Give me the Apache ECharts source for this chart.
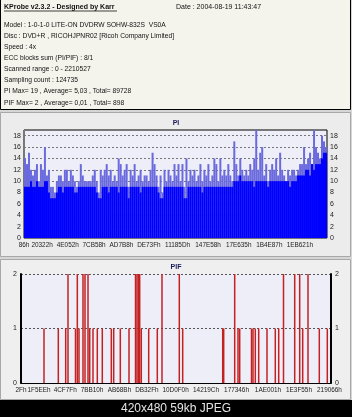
<!DOCTYPE html>
<html>
<head>
<meta charset="utf-8">
<style>
  html, body { margin: 0; padding: 0; background: #000; }
  #main { width: 352px; height: 417px; }
</style>
<script src="https://cdn.jsdelivr.net/npm/echarts@6.0.0/dist/echarts.min.js"></script>
</head>
<body>
<div id="main"></div>
<script>
// header texts
var headerTitle = 'KProbe v2.3.2 - Designed by Karr';
var headerDate = 'Date : 2004-08-19 11:43:47';
var headerLines = [
    'Model : 1-0-1-0 LITE-ON DVDRW SOHW-832S  VS0A',
    'Disc : DVD+R , RICOHJPNR02 [Ricoh Company Limited]',
    'Speed : 4x',
    'ECC blocks sum (PI/PIF) : 8/1',
    'Scanned range : 0 - 2210527',
    'Sampling count : 124735',
    'PI Max= 19 , Average= 5,03 , Total= 89728',
    'PIF Max= 2 , Average= 0,01 , Total= 898'
];
var footerText = '420x480 59kb JPEG';

var scanEnd = 2210527;

// x tick labels (sector numbers, shown in hex)
var piTicks = [0x86, 0x20322, 0x4E052, 0x7CB58, 0xAD7B8, 0xDE73F, 0x11185D, 0x147E58, 0x17E635, 0x1B4E87, 0x1EB621];
var pifTicks = [0x2F, 0x1F5EE, 0x4CF7F, 0x7BB10, 0xAB68B, 0xDB32F, 0x10D0F0, 0x14219C, 0x177346, 0x1AE001, 0x1E3F55, 0x219066];

// PI: solid level and spikes, one value per sample
var piBase = [
    9, 9, 9, 10, 9, 9, 10, 9, 9, 9,
    10, 10, 8, 7, 7, 7, 8, 9, 9, 8,
    9, 9, 9, 9, 9, 8, 8, 9, 9, 9,
    9, 9, 9, 9, 9, 9, 8, 7, 7, 9,
    9, 9, 8, 9, 9, 9, 9, 8, 9, 9,
    9, 9, 7, 9, 9, 9, 9, 9, 8, 9,
    9, 9, 9, 9, 9, 9, 9, 8, 7, 7,
    9, 9, 9, 9, 9, 9, 9, 9, 9, 9,
    7, 7, 9, 9, 9, 9, 9, 9, 9, 8,
    9, 9, 9, 9, 9, 9, 9, 9, 9, 9,
    9, 9, 9, 9, 9, 10, 10, 10, 11, 10,
    10, 10, 10, 10, 10, 9, 10, 10, 10, 10,
    10, 10, 9, 10, 10, 10, 10, 10, 10, 10,
    10, 10, 10, 9, 10, 10, 10, 11, 11, 11,
    11, 12, 12, 11, 13, 12, 13, 13, 13, 14,
    15, 15
];
var piPeak = [
    14, 13, 15, 12, 11, 12, 13, 10, 13, 12,
    16, 11, 12, 9, 9, 8, 10, 11, 11, 10,
    12, 12, 10, 12, 11, 10, 9, 10, 13, 11,
    10, 10, 10, 10, 11, 12, 10, 8, 12, 11,
    12, 13, 11, 12, 10, 11, 10, 14, 13, 11,
    12, 13, 9, 12, 11, 13, 10, 11, 12, 10,
    11, 11, 10, 12, 15, 13, 11, 9, 11, 8,
    12, 10, 12, 11, 10, 13, 11, 13, 10, 13,
    9, 14, 10, 12, 11, 12, 10, 11, 13, 10,
    12, 11, 13, 10, 11, 14, 13, 10, 14, 11,
    12, 11, 13, 11, 10, 17, 13, 11, 14, 12,
    11, 12, 11, 13, 12, 14, 19, 12, 15, 16,
    11, 13, 10, 12, 13, 12, 14, 11, 15, 12,
    11, 10, 12, 11, 12, 12, 11, 12, 13, 13,
    16, 13, 14, 15, 13, 19, 16, 15, 14, 18,
    17, 16
];

// PIF: sector position and count of each non-zero sample
var pifPos = [
    164000, 266000, 318700, 335100, 388600, 401500, 413600, 442100, 456400, 477800,
    489900, 513400, 544100, 579700, 643900, 661000, 708100, 770100, 816500, 827200,
    837900, 846400, 857800, 910600, 971900, 1005400, 1128800, 1153000, 1438300, 1445400,
    1523800, 1547400, 1559500, 1643600, 1654300, 1670700, 1695000, 1754200, 1813300, 1837600,
    1871800, 1951700, 1987300, 2008700, 2046500, 2127100, 2184100
];
var pifVal = [
    1, 1, 1, 2, 1, 2, 1, 2, 2, 2,
    1, 1, 1, 1, 1, 1, 1, 1, 2, 2,
    2, 2, 1, 1, 1, 2, 2, 1, 1, 1,
    2, 1, 1, 1, 1, 1, 1, 1, 1, 1,
    2, 2, 2, 1, 2, 1, 1
];

var chart = echarts.init(document.getElementById('main'));

var font = '"Liberation Sans", Arial, sans-serif';
var hex = function (v) { return v.toString(16).toUpperCase() + 'h'; };
var tickLabel = { fontFamily: font, fontSize: 7, color: '#222' };
var xTickLabel = { fontFamily: font, fontSize: 6.4, color: '#222' };

var cats = piBase.map(function (v, i) { return i; });
var pifData = pifPos.map(function (p, i) { return [p, pifVal[i]]; });

// panels, header and footer
var graphics = [
    { type: 'rect', z: -10, shape: { x: 0, y: 0, width: 352, height: 417 }, style: { fill: '#d6d6d6' } },
    { type: 'rect', z: -9, shape: { x: 0.5, y: -1, width: 350, height: 110.5 }, style: { fill: '#f5f4ec', stroke: '#000', lineWidth: 1 } },
    { type: 'rect', z: -9, shape: { x: 0.5, y: 112.5, width: 350, height: 144 }, style: { fill: '#ececec', stroke: '#a8a8a8' } },
    { type: 'rect', z: -9, shape: { x: 0.5, y: 259.5, width: 350, height: 140 }, style: { fill: '#efefef', stroke: '#a8a8a8' } },
    { type: 'rect', z: -9, shape: { x: 0, y: 400, width: 352, height: 17 }, style: { fill: '#000' } },
    { type: 'text', style: { x: 176, y: 409, text: footerText, align: 'center', verticalAlign: 'middle', fill: '#e4e4e4', font: '12px ' + font } },
    { type: 'text', style: { x: 4, y: 7, text: headerTitle, verticalAlign: 'middle', fill: '#111', font: 'bold 7px ' + font } },
    { type: 'line', shape: { x1: 4, y1: 11, x2: 117, y2: 11 }, style: { stroke: '#111', lineWidth: 0.8 } },
    { type: 'text', style: { x: 176, y: 7, text: headerDate, verticalAlign: 'middle', fill: '#111', font: '7px ' + font } }
];
headerLines.forEach(function (line, i) {
    graphics.push({
        type: 'text',
        style: { x: 4, y: 25 + i * 11.1, text: line, verticalAlign: 'middle', fill: '#111', font: '6.7px ' + font }
    });
});

var titleStyle = { fontFamily: font, fontSize: 7, fontWeight: 'bold', color: '#1a1a5a' };

var option = {
    animation: false,
    graphic: graphics,
    title: [
        { text: 'PI', left: 'center', top: 120, padding: 0, textStyle: titleStyle },
        { text: 'PIF', left: 'center', top: 264, padding: 0, textStyle: titleStyle }
    ],
    grid: [
        { left: 24, top: 130, width: 303, height: 108, show: true, backgroundColor: '#eeeef8', borderColor: '#000', borderWidth: 1 },
        { left: 21, top: 274, width: 310, height: 109, show: true, backgroundColor: '#eeeef8', borderWidth: 0 }
    ],
    xAxis: [
        { type: 'category', gridIndex: 0, position: 'top', data: cats, show: false },
        {
            type: 'value', gridIndex: 0, position: 'bottom', min: 0, max: scanEnd,
            axisLine: { show: false }, axisTick: { show: false }, splitLine: { show: false },
            axisLabel: Object.assign({ customValues: piTicks, formatter: hex, margin: 4, hideOverlap: false, showMinLabel: true, showMaxLabel: true }, xTickLabel)
        },
        {
            type: 'value', gridIndex: 1, position: 'bottom', min: 0, max: scanEnd,
            axisLine: { lineStyle: { color: '#000', width: 1 } }, axisTick: { show: false }, splitLine: { show: false },
            axisLabel: Object.assign({ customValues: pifTicks, formatter: hex, margin: 4, hideOverlap: false, showMinLabel: true, showMaxLabel: true }, xTickLabel)
        }
    ],
    yAxis: [
        {
            type: 'value', gridIndex: 0, min: 0, max: 19, interval: 2, position: 'left',
            axisLine: { show: false }, axisTick: { show: false },
            splitLine: { lineStyle: { type: [2, 2], color: '#777', width: 1 } },
            axisLabel: Object.assign({ showMaxLabel: false, margin: 3 }, tickLabel)
        },
        {
            type: 'value', gridIndex: 0, min: 0, max: 19, interval: 2, position: 'right',
            axisLine: { show: false }, axisTick: { show: false }, splitLine: { show: false },
            axisLabel: Object.assign({ showMaxLabel: false, margin: 3 }, tickLabel)
        },
        {
            type: 'value', gridIndex: 1, min: 0, max: 2, interval: 1, position: 'left',
            axisLine: { show: true, lineStyle: { color: '#000', width: 2 } }, axisTick: { show: false },
            splitLine: { lineStyle: { type: [2, 2], color: '#555', width: 1 } },
            axisLabel: Object.assign({ margin: 4 }, tickLabel)
        },
        {
            type: 'value', gridIndex: 1, min: 0, max: 2, interval: 1, position: 'right',
            axisLine: { show: true, lineStyle: { color: '#000', width: 2 } }, axisTick: { show: false }, splitLine: { show: false },
            axisLabel: Object.assign({ margin: 4 }, tickLabel)
        }
    ],
    series: [
        {
            name: 'PI peak', type: 'bar', xAxisIndex: 0, yAxisIndex: 0, data: piPeak,
            barGap: '-100%', barCategoryGap: '0%', itemStyle: { color: '#6a6ade' }
        },
        {
            name: 'PI', type: 'bar', xAxisIndex: 0, yAxisIndex: 0, data: piBase,
            barGap: '-100%', barCategoryGap: '0%', itemStyle: { color: '#0000ff' }
        },
        {
            name: 'PIF', type: 'bar', xAxisIndex: 2, yAxisIndex: 2, data: pifData,
            barWidth: 1.5, itemStyle: { color: '#c42222' }
        }
    ]
};

chart.setOption(option);
</script>
</body>
</html>
